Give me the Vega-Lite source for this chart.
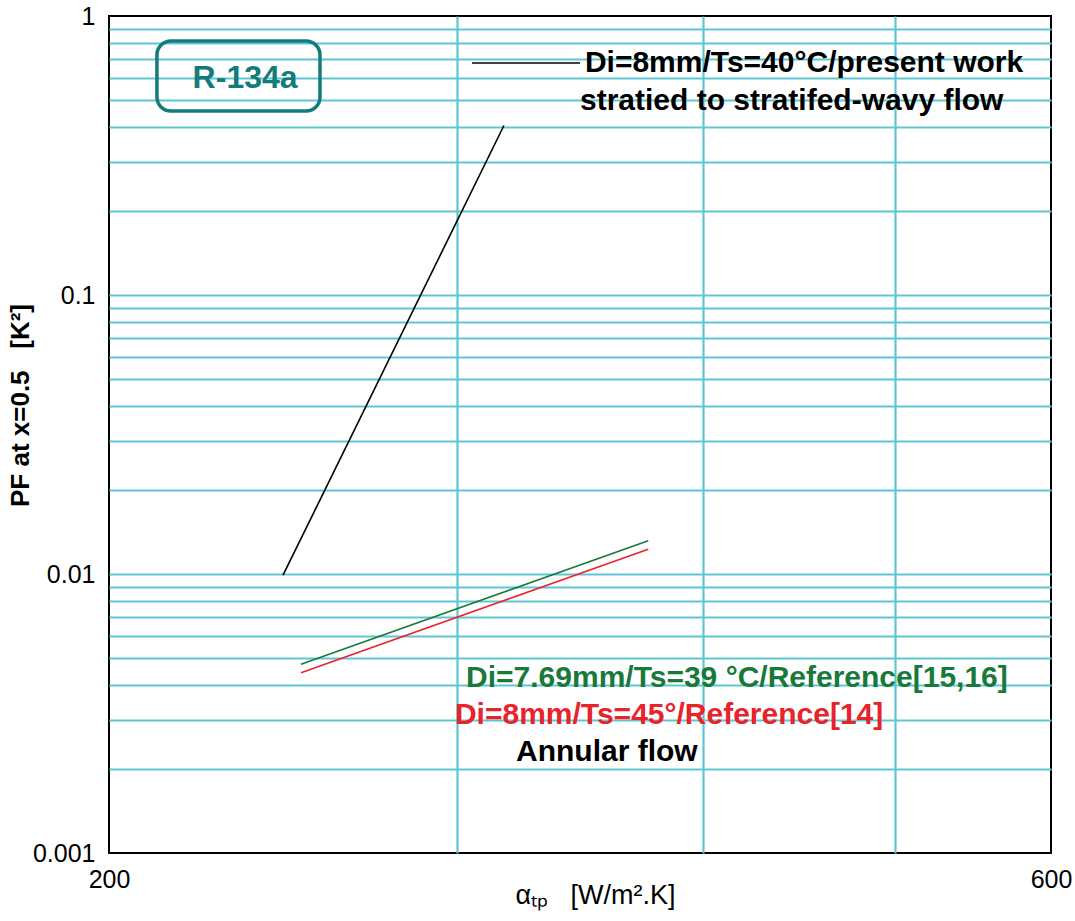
{
  "$schema": "https://vega.github.io/schema/vega-lite/v6.json",
  "width": 942,
  "height": 837,
  "autosize": {"type": "none"},
  "padding": {"left": 109, "top": 16, "right": 24, "bottom": 68},
  "background": "white",
  "config": {
    "view": {"stroke": "#000000", "strokeWidth": 2},
    "font": "Liberation Sans"
  },
  "datasets": {
    "curves": [
      {"series": "present", "alpha": 245, "pf": 0.0099},
      {"series": "present", "alpha": 317, "pf": 0.405},
      {"series": "ref1516", "alpha": 250.2, "pf": 0.00475},
      {"series": "ref1516", "alpha": 375.1, "pf": 0.01316},
      {"series": "ref14", "alpha": 250.2, "pf": 0.00443},
      {"series": "ref14", "alpha": 375.1, "pf": 0.01226}
    ],
    "legendLine": [
      {"series": "legend", "alpha": 305.4, "pf": 0.6785},
      {"series": "legend", "alpha": 346.4, "pf": 0.6785}
    ],
    "notes": [
      {"series": "present", "alpha": 348.4, "pf": 0.6785, "text": "Di=8mm/Ts=40°C/present work"},
      {"series": "present", "alpha": 346.4, "pf": 0.4958, "text": "stratied to stratifed-wavy flow"},
      {"series": "ref1516", "alpha": 303.3, "pf": 0.004238, "text": "Di=7.69mm/Ts=39 °C/Reference[15,16]"},
      {"series": "ref14", "alpha": 299.4, "pf": 0.003124, "text": "Di=8mm/Ts=45°/Reference[14]"},
      {"series": "present", "alpha": 321.5, "pf": 0.0023, "text": "Annular flow"}
    ],
    "box": [
      {"series": "label", "alpha": 211.5, "alpha2": 255.8, "pf": 0.8136, "pf2": 0.4565}
    ],
    "boxLabel": [
      {"series": "label", "alpha": 234.4, "pf": 0.5995, "text": "R-134a"}
    ]
  },
  "encoding": {
    "x": {
      "field": "alpha",
      "type": "quantitative",
      "scale": {"type": "log", "domain": [200, 600], "nice": false, "zero": false},
      "axis": {
        "values": [200, 300, 400, 500, 600],
        "labelExpr": "(datum.value == 200 || datum.value == 600) ? format(datum.value, 'd') : ''",
        "ticks": false,
        "domain": false,
        "labelFontSize": 25,
        "labelColor": "#000000",
        "labelPadding": 14,
        "labelFlush": false,
        "labelOverlap": false,
        "title": "αₜₚ\u00a0\u00a0\u00a0[W/m².K]",
        "titleFontSize": 27,
        "titleFontWeight": "normal",
        "titleColor": "#000000",
        "titleX": 486,
        "titleY": 42,
        "titleBaseline": "middle",
        "gridColor": "#5cc7d3",
        "gridWidth": 2.2,
        "gridOpacity": {"condition": {"test": "datum.value == 200 || datum.value == 600", "value": 0}, "value": 1}
      }
    },
    "y": {
      "field": "pf",
      "type": "quantitative",
      "scale": {"type": "log", "domain": [0.001, 1], "nice": false, "zero": false},
      "axis": {
        "values": [0.001, 0.002, 0.003, 0.004, 0.005, 0.006, 0.007, 0.008, 0.009, 0.01, 0.02, 0.03, 0.04, 0.05, 0.06, 0.07, 0.08, 0.09, 0.1, 0.2, 0.3, 0.4, 0.5, 0.6, 0.7, 0.8, 0.9, 1],
        "labelExpr": "(datum.value == 0.001 || datum.value == 0.01 || datum.value == 0.1 || datum.value == 1) ? format(datum.value, '~g') : ''",
        "ticks": false,
        "domain": false,
        "labelFontSize": 25,
        "labelColor": "#000000",
        "labelPadding": 14,
        "labelFlush": false,
        "labelOverlap": false,
        "title": "PF at x=0.5\u00a0\u00a0\u00a0[K²]",
        "titleFontSize": 26,
        "titleFontWeight": "bold",
        "titleColor": "#000000",
        "titleX": -89,
        "titleY": 389,
        "titleBaseline": "middle",
        "gridColor": "#5cc7d3",
        "gridWidth": 2.2,
        "gridOpacity": {"condition": {"test": "datum.value == 0.001 || datum.value == 1", "value": 0}, "value": 1}
      }
    },
    "color": {
      "field": "series",
      "type": "nominal",
      "scale": {
        "domain": ["present", "ref1516", "ref14", "legend", "label"],
        "range": ["#000000", "#17793a", "#e8232b", "#000000", "#137b7a"]
      },
      "legend": null
    }
  },
  "layer": [
    {
      "data": {"name": "curves"},
      "mark": {"type": "line", "strokeWidth": 1.6},
      "encoding": {"detail": {"field": "series"}}
    },
    {
      "data": {"name": "legendLine"},
      "mark": {"type": "line", "strokeWidth": 1.6},
      "encoding": {}
    },
    {
      "data": {"name": "box"},
      "mark": {"type": "rect", "fill": null, "fillOpacity": 0, "strokeWidth": 3.5, "cornerRadius": 14},
      "encoding": {
        "x2": {"field": "alpha2"},
        "y2": {"field": "pf2"},
        "stroke": {"field": "series", "type": "nominal", "scale": {"domain": ["label"], "range": ["#137b7a"]}, "legend": null},
        "color": {"value": null}
      }
    },
    {
      "data": {"name": "boxLabel"},
      "mark": {"type": "text", "fontSize": 32, "fontWeight": "bold", "align": "center", "baseline": "middle"},
      "encoding": {"text": {"field": "text"}}
    },
    {
      "data": {"name": "notes"},
      "mark": {"type": "text", "fontSize": 30, "fontWeight": "bold", "align": "left", "baseline": "middle"},
      "encoding": {"text": {"field": "text"}}
    }
  ]
}
